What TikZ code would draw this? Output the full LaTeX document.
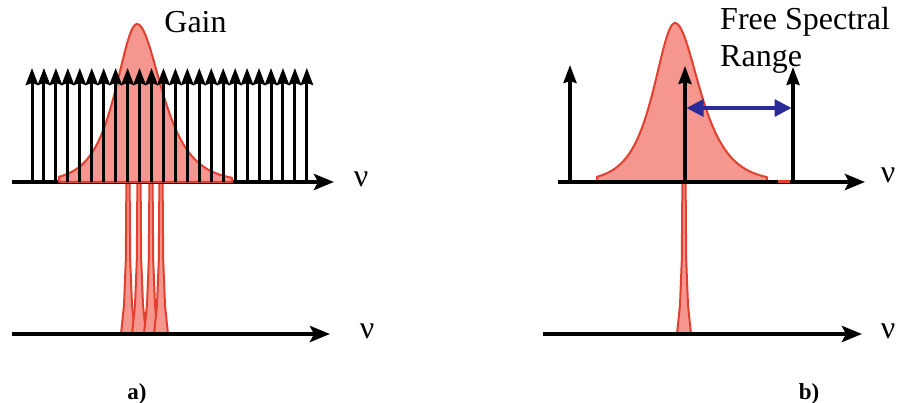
\documentclass[tikz,border=0pt]{standalone}
\usepackage{fontspec}
\setmainfont{Liberation Serif}
\usetikzlibrary{arrows.meta}
\definecolor{gainfill}{HTML}{F5968F}
\definecolor{gainline}{HTML}{E23F2E}
\definecolor{fsrblue}{HTML}{2B2B99}
\tikzset{
  axisline/.style={line width=4.2pt, -{Stealth[length=20pt,width=16pt,inset=4pt]}},
  combarrow/.style={line width=3pt, -{Stealth[length=17pt,width=12.5pt,inset=2pt]}},
  combthick/.style={line width=3.4pt, -{Stealth[length=18pt,width=13pt,inset=2pt]}},
  gainshape/.style={fill=gainfill, draw=gainline, line width=2pt, line join=round},
  fsrarrow/.style={draw=fsrblue, line width=3.2pt, {Triangle[length=17pt,width=17pt]}-{Triangle[length=17pt,width=17pt]}},
  biglbl/.style={font=\fontsize{32}{37}\selectfont, inner sep=0pt},
  panellbl/.style={font=\fontsize{23}{27}\selectfont\bfseries, inner sep=0pt}
}
\newcommand\myspike[1]{%
  \draw[gainshape] ({#1-7},334) -- ({#1-4},305) -- ({#1-2.2},260) -- ({#1-1.6},182)
    -- ({#1+1.6},182) -- ({#1+2.2},260) -- ({#1+4},305) -- ({#1+7},334) -- cycle;}
\begin{document}
\begin{tikzpicture}[x=1pt,y=-1pt]
\useasboundingbox (0,0) rectangle (897,403);

% ---------- panel a ----------
% output spikes
\myspike{128}
\myspike{139}
\myspike{151}
\myspike{161}
% axes
\coordinate (aTs) at (12,182);
\coordinate (aTe) at (334,182);
\coordinate (aBs) at (12,334);
\coordinate (aBe) at (330,334);
\draw[axisline] (aTs) -- (aTe);
\draw[axisline] (aBs) -- (aBe);
% gain curve
\draw[gainshape] (59,182)
  -- plot[domain=-78:0, samples=60] ({137+\x},{182-158/cosh(\x/19)})
  -- plot[domain=0:95, samples=60] ({137+\x},{182-158/cosh(\x/22)})
  -- (232,182) -- cycle;
% comb
\foreach \i in {0,...,23} {
  \coordinate (c\i) at ({32+11.95*\i},182);
  \coordinate (t\i) at ({32+11.95*\i},68);
  \draw[combarrow] (c\i) -- (t\i);
}
\node[biglbl, anchor=base] (gain) at (195.5,33) {Gain};
\node[biglbl, anchor=base] (nuaT) at (361,187) {ν};
\node[biglbl, anchor=base] (nuaB) at (367,338) {ν};
\node[panellbl, anchor=base] (pa) at (137,399) {a)};

% ---------- panel b ----------
\myspike{684}
\draw[gainshape] (597,182)
  -- plot[domain=-78:0, samples=60] ({675+\x},{182-159/cosh(\x/19)})
  -- plot[domain=0:92, samples=60] ({675+\x},{182-159/cosh(\x/22)})
  -- (767,182) -- cycle;
\coordinate (bTs) at (558,182);
\coordinate (bTe) at (865,182);
\coordinate (bBs) at (543,334);
\coordinate (bBe) at (862,334);
\draw[axisline] (bTs) -- (bTe);
\draw[axisline] (bBs) -- (bBe);
\draw[gainline, line width=3pt] (778,182) -- (790,182);
\coordinate (m1b) at (570,182); \coordinate (m1t) at (570,65);
\coordinate (m2b) at (685,182); \coordinate (m2t) at (685,66);
\coordinate (m3b) at (793,182); \coordinate (m3t) at (793,67);
\draw[combthick] (m1b) -- (m1t);
\draw[combthick] (m2b) -- (m2t);
\draw[combthick] (m3b) -- (m3t);
\coordinate (fsrL) at (686.5,108);
\coordinate (fsrR) at (791.5,108);
\draw[fsrarrow] (fsrL) -- (fsrR);
\node[biglbl, anchor=base west] (fsr1) at (720,30) {Free Spectral};
\node[biglbl, anchor=base west] (fsr2) at (720,67) {Range};
\node[biglbl, anchor=base] (nubT) at (888,183) {ν};
\node[biglbl, anchor=base] (nubB) at (888,338) {ν};
\node[panellbl, anchor=base] (pb) at (809,399) {b)};
\end{tikzpicture}
\end{document}
